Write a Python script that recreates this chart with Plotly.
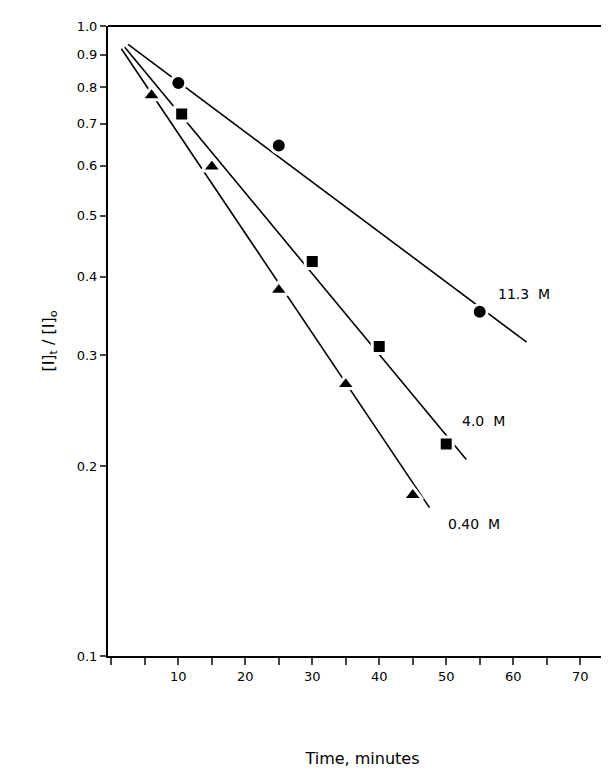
import math
import plotly.graph_objects as go

# data
t_113 = [10, 25, 55]
c_113 = [0.812, 0.646, 0.352]
t_40 = [10.5, 30, 40, 50]
c_40 = [0.725, 0.423, 0.31, 0.217]
t_04 = [6, 15, 25, 35, 45]
c_04 = [0.776, 0.598, 0.381, 0.27, 0.18]

# fitted line endpoints
fit_113_t = [2.5, 62]
fit_113_c = [0.935, 0.315]
fit_40_t = [2, 53]
fit_40_c = [0.925, 0.205]
fit_04_t = [1.5, 47.5]
fit_04_c = [0.92, 0.172]

y_ticks = [0.1, 0.2, 0.3, 0.4, 0.5, 0.6, 0.7, 0.8, 0.9, 1.0]
x_ticks = list(range(0, 75, 5))
x_labels = [str(v) if v % 10 == 0 and v > 0 else "" for v in x_ticks]

fig = go.Figure()
for tx, cy in [(fit_113_t, fit_113_c), (fit_40_t, fit_40_c), (fit_04_t, fit_04_c)]:
    fig.add_trace(go.Scatter(x=tx, y=cy, mode="lines",
                             line=dict(color="black", width=1.6), showlegend=False))

for tx, cy, sym, sz in [(t_113, c_113, "circle", 15), (t_40, c_40, "square", 14),
                        (t_04, c_04, "triangle-up", 17)]:
    fig.add_trace(go.Scatter(x=tx, y=cy, mode="markers", showlegend=False,
                             marker=dict(symbol=sym, size=sz, color="black",
                                         line=dict(color="white", width=3))))

labels = [(57.5, 0.375, "11.3  M"), (52, 0.236, "4.0  M"), (50, 0.162, "0.40  M")]
for x, y, s in labels:
    fig.add_annotation(x=x, y=math.log10(y), text=s, showarrow=False, xanchor="left",
                       font=dict(family="DejaVu Sans", size=14, color="black"))

fig.update_layout(
    width=609, height=778,
    margin=dict(l=100, r=0, t=18, b=130),
    plot_bgcolor="white", paper_bgcolor="white",
    font=dict(family="DejaVu Sans", size=13, color="black"),
    xaxis=dict(range=[-0.5, 75.5], tickvals=x_ticks, ticktext=x_labels,
               ticks="outside", ticklen=7, tickwidth=2, showgrid=False,
               showline=True, linecolor="black", linewidth=2, mirror=False,
               zeroline=False,
               title=dict(text="Time, minutes", standoff=70)),
    yaxis=dict(type="log", range=[-1, 0], tickvals=y_ticks,
               ticktext=["0.1", "0.2", "0.3", "0.4", "0.5", "0.6", "0.7", "0.8", "0.9", "1.0"],
               ticks="outside", ticklen=6, tickwidth=2, showgrid=False,
               showline=True, linecolor="black", linewidth=2, zeroline=False,
               title=dict(text="[I]<sub>t</sub> / [I]<sub>o</sub>", standoff=18,
                          font=dict(size=16))),
)
fig.add_shape(type="line", xref="paper", yref="paper", x0=0, x1=1, y0=1, y1=1,
              line=dict(color="black", width=2))

fig.write_html("out.html")
